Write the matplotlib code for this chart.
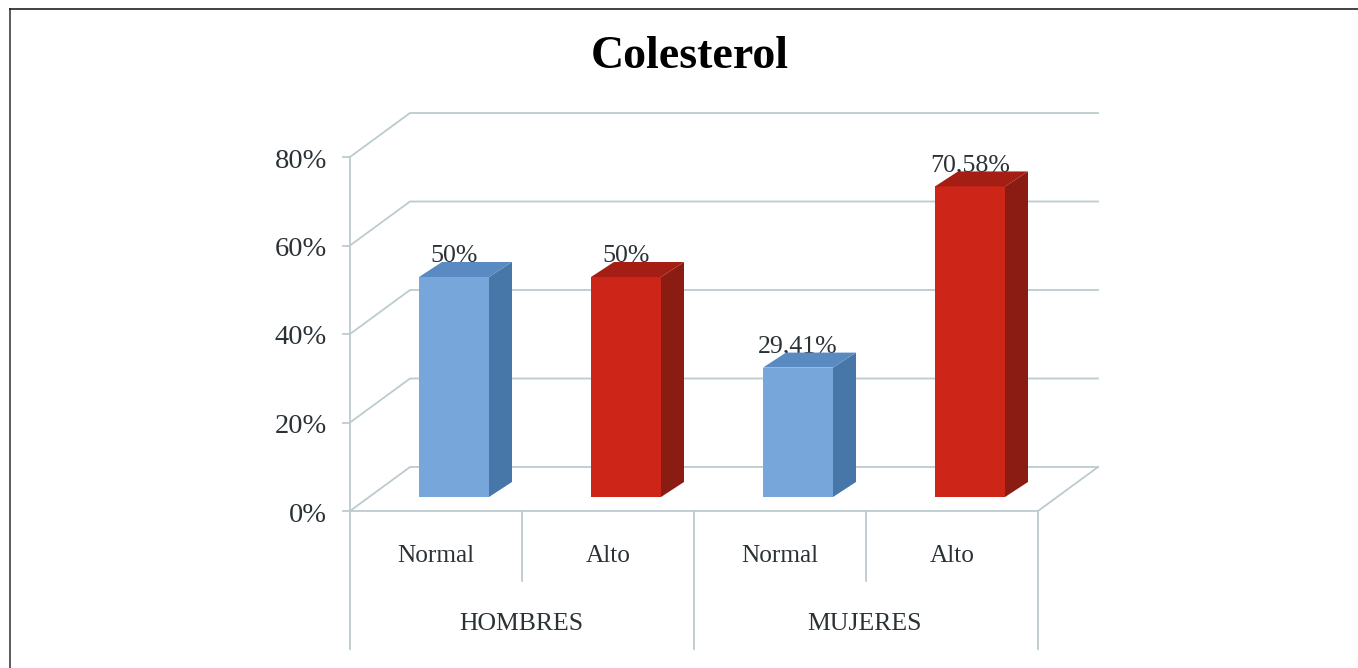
import matplotlib
matplotlib.use("Agg")
import matplotlib.pyplot as plt
from matplotlib.patches import Polygon, Rectangle

categories = ["Normal", "Alto", "Normal", "Alto"]
groups = ["HOMBRES", "MUJERES"]
values = [50, 50, 29.41, 70.58]
value_labels = ["50%", "50%", "29,41%", "70,58%"]
yticks = [0, 20, 40, 60, 80]
title = "Colesterol"

W, H = 1358, 668
plt.rcParams["font.family"] = ["Liberation Serif", "DejaVu Serif"]
fig = plt.figure(figsize=(W / 100, H / 100), dpi=100)
L, R, T, B = 350, 1038, 157, 511
ax = fig.add_axes([L / W, 1 - B / H, (R - L) / W, (B - T) / H])
ax.set_xlim(-0.5, 3.5)
ax.set_ylim(0, 80)
ax.axis("off")

xpx = (R - L) / 4
ypx = (B - T) / 80
DX, DY = 60 / xpx, 44 / ypx          # wall depth
OX, OY = 18 / xpx, 14 / ypx          # bar offset within floor
BX, BY = 23 / xpx, 15 / ypx          # bar depth
BW = 70 / xpx
GRID = "#bccbd0"
INK = "#2a3236"
kw = dict(clip_on=False)

# Walls and grid
for v in yticks:
    ax.plot([-0.5, -0.5 + DX, 3.5 + DX], [v, v + DY, v + DY], color=GRID, lw=1.3, **kw)
    ax.plot([-0.5 - 7 / xpx, -0.5], [v, v], color=GRID, lw=1.3, **kw)
    ax.text(-0.5 - 23 / xpx, v - 4 / ypx, f"{v}%", ha="right", va="center", fontsize=20.5, color=INK)
ax.plot([-0.5, -0.5], [0, 80], color=GRID, lw=1.3, **kw)
ax.plot([-0.5, 3.5, 3.5 + DX], [0, 0, DY], color=GRID, lw=1.3, **kw)

# Multi-level category axis
lvl1 = -70 / ypx
lvl2 = -138 / ypx
for x in [-0.5, 0.5, 1.5, 2.5, 3.5]:
    low = lvl2 if x in (-0.5, 1.5, 3.5) else lvl1
    ax.plot([x, x], [0, low], color=GRID, lw=1.3, **kw)
for i, c in enumerate(categories):
    ax.text(i, -45 / ypx, c, ha="center", va="center", fontsize=18.2, color=INK)
for i, g in enumerate(groups):
    ax.text(0.5 + 2 * i - 1 / xpx, -113 / ypx, g, ha="center", va="center", fontsize=18.5, color=INK)

# Bars
FACE = ["#76a6da", "#cd2619"]
TOP = ["#5a8ac2", "#a41e13"]
SIDE = ["#4776a8", "#8a1c13"]
for i, v in enumerate(values):
    c = i % 2
    x0 = i + OX - BW / 2
    x1 = x0 + BW
    y0, y1 = OY, OY + v * (220 / 50) / ypx
    ax.add_patch(Rectangle((x0, y0), BW, y1 - y0, fc=FACE[c], ec="none", zorder=3, **kw))
    ax.add_patch(Polygon([(x1, y0), (x1 + BX, y0 + BY), (x1 + BX, y1 + BY), (x1, y1)],
                         fc=SIDE[c], ec="none", zorder=3, **kw))
    ax.add_patch(Polygon([(x0, y1), (x0 + BX, y1 + BY), (x1 + BX, y1 + BY), (x1, y1)],
                         fc=TOP[c], ec="none", zorder=3, **kw))
    ax.text(i + OX, y1 + 10 / ypx, value_labels[i], ha="center", va="bottom", fontsize=18.6,
            color=INK, zorder=2)

fig.text(690 / W, 1 - 57 / H, title, ha="center", va="center", fontsize=33, fontweight="bold", color="black")

# Outer frame
fig.add_artist(plt.Line2D([10 / W, 10 / W], [0, 1 - 9 / H],
                          transform=fig.transFigure, color="#5a5a5a", lw=1.4))
fig.add_artist(plt.Line2D([10 / W, 1], [1 - 9 / H, 1 - 9 / H],
                          transform=fig.transFigure, color="#222222", lw=1.2))
fig.savefig("out.png", dpi=100)
